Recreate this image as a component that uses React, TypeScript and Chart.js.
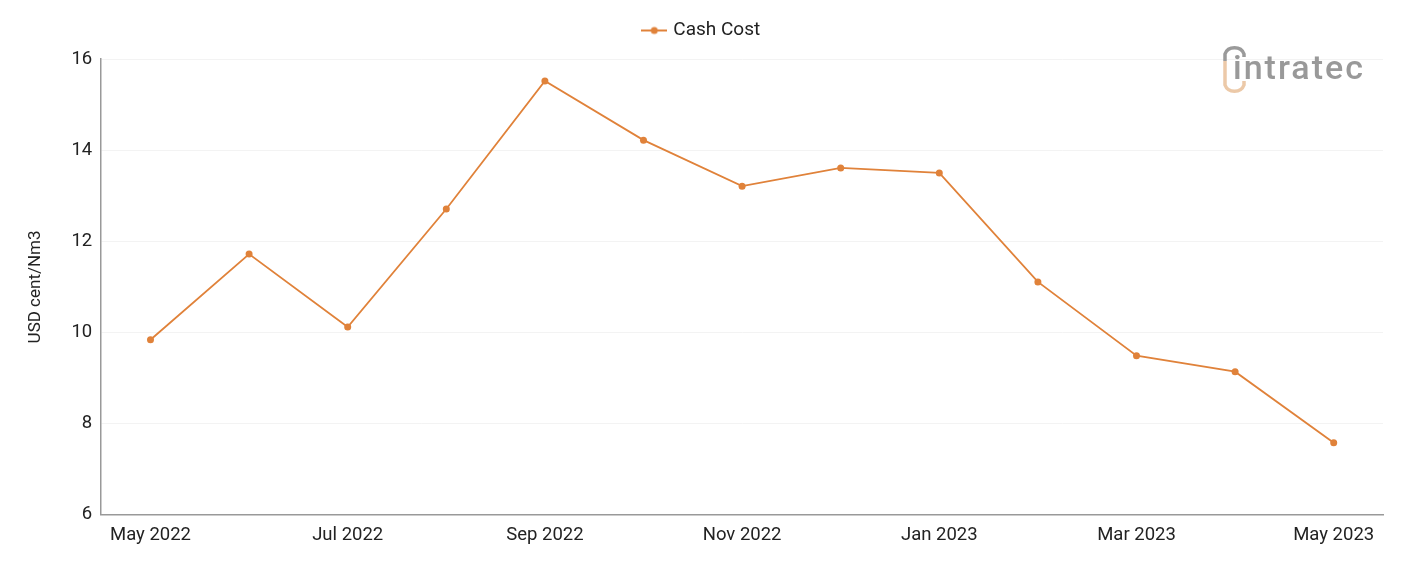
import React, { useEffect, useRef } from "react";
import { Chart, registerables } from "chart.js";

Chart.register(...registerables);

const months = [
  "May 2022", "Jun 2022", "Jul 2022", "Aug 2022", "Sep 2022", "Oct 2022", "Nov 2022",
  "Dec 2022", "Jan 2023", "Feb 2023", "Mar 2023", "Apr 2023", "May 2023",
];
const cashCost = [9.84, 11.72, 10.12, 12.71, 15.52, 14.22, 13.21, 13.61, 13.5, 11.11, 9.49, 9.14, 7.58];
const yTicks = [6, 8, 10, 12, 14, 16];
const seriesName = "Cash Cost";
const yTitle = "USD cent/Nm3";
const lineColor = "#e0823a";

function legendIcon(): HTMLCanvasElement {
  const c = document.createElement("canvas");
  c.width = 26;
  c.height = 10;
  const ctx = c.getContext("2d")!;
  ctx.strokeStyle = lineColor;
  ctx.lineWidth = 2;
  ctx.beginPath();
  ctx.moveTo(0, 5);
  ctx.lineTo(26, 5);
  ctx.stroke();
  ctx.fillStyle = lineColor;
  ctx.beginPath();
  ctx.arc(13, 5, 3.5, 0, Math.PI * 2);
  ctx.fill();
  return c;
}

const legendSpacing = {
  id: "legendSpacing",
  beforeInit(chart: any) {
    const orig = chart.legend.fit;
    chart.legend.fit = function () {
      orig.bind(this)();
      this.height += 9;
    };
  },
};

export default function App() {
  const ref = useRef<HTMLCanvasElement>(null);
  useEffect(() => {
    document.body.style.margin = "0";
    const icon = legendIcon();
    const chart = new Chart(ref.current!, {
      type: "line",
      data: {
        labels: months,
        datasets: [
          {
            label: seriesName,
            data: cashCost,
            borderColor: lineColor,
            backgroundColor: lineColor,
            borderWidth: 1.8,
            pointRadius: 3.5,
            pointBackgroundColor: lineColor,
            pointBorderWidth: 0,
            tension: 0,
          },
        ],
      },
      plugins: [legendSpacing],
      options: {
        animation: false,
        responsive: false,
        layout: { padding: { left: 22, right: 18, top: 11, bottom: 6 } },
        plugins: {
          legend: {
            position: "top",
            labels: {
              usePointStyle: true,
              pointStyle: icon as any,
              color: "#222",
              font: { family: "Roboto", size: 19 },
              padding: 10,
            },
          },
          tooltip: { enabled: false },
        },
        scales: {
          x: {
            offset: true,
            grid: { display: false, drawTicks: false },
            border: { color: "#999", width: 1.5 },
            ticks: {
              autoSkip: false,
              maxRotation: 0,
              color: "#222",
              padding: 9,
              font: { family: "Roboto", size: 18.5 },
              callback: (_v: any, i: number) => (i % 2 === 0 ? months[i] : ""),
            },
          },
          y: {
            min: yTicks[0],
            max: yTicks[yTicks.length - 1],
            afterBuildTicks: (axis: any) => {
              axis.ticks = yTicks.map((v) => ({ value: v }));
            },
            grid: { color: "#f3f3f3", drawTicks: false },
            border: { color: "#999", width: 1.5 },
            ticks: {
              color: "#222",
              padding: 9,
              font: { family: "Roboto", size: 18.5 },
            },
            title: {
              display: true,
              text: yTitle,
              color: "#222",
              font: { family: "Roboto", size: 17 },
              padding: { bottom: 16 },
            },
          },
        },
      },
    });
    return () => chart.destroy();
  }, []);
  return (
    <div style={{ position: "relative", width: 1401, height: 561 }}>
      <canvas ref={ref} width={1401} height={561} style={{ display: "block" }} />
      <svg
        width={40}
        height={60}
        style={{ position: "absolute", left: 1217, top: 41 }}
        viewBox="0 0 40 60"
      >
        <path d="M8 20 L8 13 A10 9 0 0 1 27 13 L27 16" fill="none" stroke="#9a9a9a" strokeWidth={3.5} />
        <path d="M8 20 L8 40" fill="none" stroke="#ecc9a8" strokeWidth={3.5} />
        <path d="M8 40 L8 44 A10 9 0 0 0 27 44 L27 40" fill="none" stroke="#ecc9a8" strokeWidth={3.5} />
      </svg>
      <div
        style={{
          position: "absolute",
          left: 1233,
          top: 43,
          fontFamily: "Roboto, sans-serif",
          fontSize: 34,
          fontWeight: 500,
          color: "#999999",
          letterSpacing: 2,
          lineHeight: "48px",
        }}
      >
        intratec
      </div>
    </div>
  );
}
